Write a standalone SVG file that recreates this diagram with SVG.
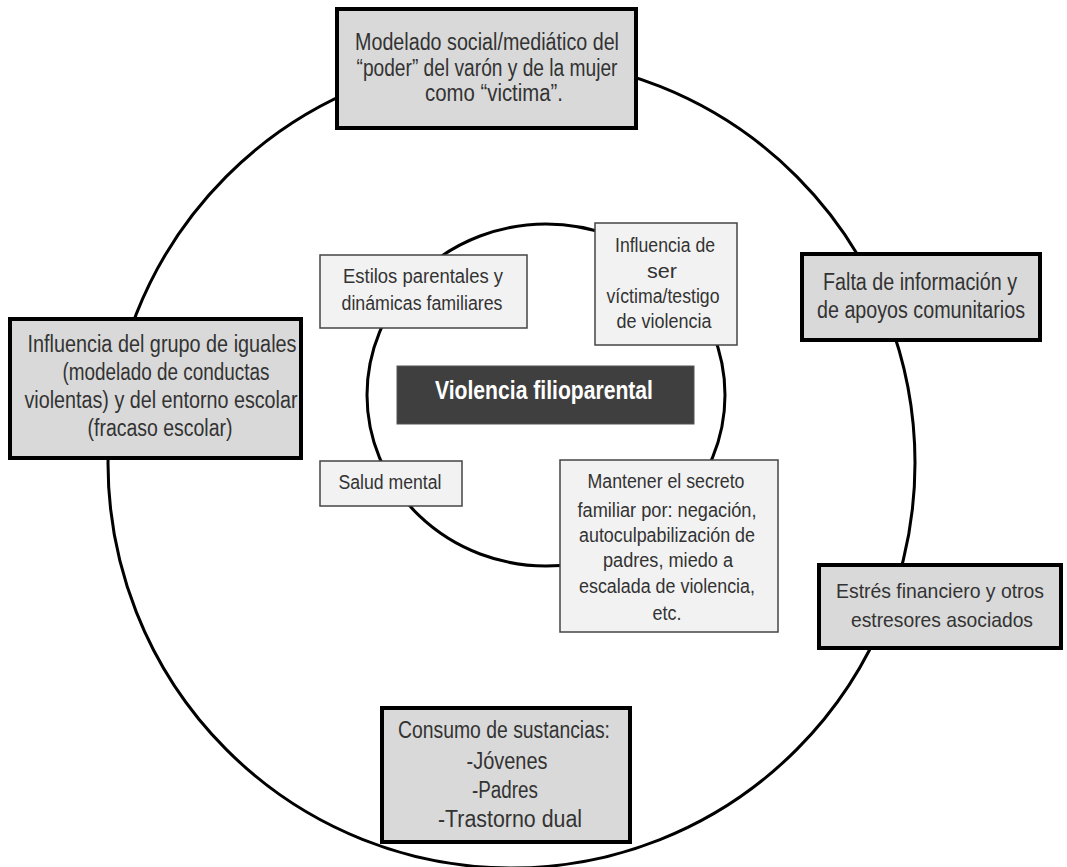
<svg xmlns="http://www.w3.org/2000/svg" width="1067" height="867" viewBox="0 0 1067 867">
<style>
.outer{fill:#d9d9d9;stroke:#000;stroke-width:4}
.inner{fill:#f2f2f2;stroke:#444;stroke-width:1.5}
.ring{fill:none;stroke:#000;stroke-width:3}
text{font-family:"Liberation Sans",Arial,sans-serif;fill:#333;text-anchor:middle}
.t1{font-size:23px}
.t1s{font-size:21px}
.t2{font-size:20px}
.c{font-size:25px;font-weight:bold;fill:#fff}
</style>
<rect width="1067" height="867" fill="#fff"/>
<g id="connectors">
<ellipse class="ring" cx="511.5" cy="463" rx="403.5" ry="405"/>
<ellipse class="ring" cx="546" cy="395" rx="179" ry="171"/>
</g>
<g id="top">
<rect class="outer" x="337" y="9" width="299" height="119"/>
<text class="t1" x="487" y="50" textLength="264" lengthAdjust="spacingAndGlyphs">Modelado social/mediático del</text>
<text class="t1" x="487" y="76" textLength="261" lengthAdjust="spacingAndGlyphs">“poder” del varón y de la mujer</text>
<text class="t1" x="494" y="101" textLength="138" lengthAdjust="spacingAndGlyphs">como “victima”.</text>
</g>
<g id="left">
<rect class="outer" x="10" y="319" width="291" height="139"/>
<text class="t1" x="162" y="352" textLength="269" lengthAdjust="spacingAndGlyphs">Influencia del grupo de iguales</text>
<text class="t1" x="166" y="380" textLength="207" lengthAdjust="spacingAndGlyphs">(modelado de conductas</text>
<text class="t1" x="161" y="408" textLength="273" lengthAdjust="spacingAndGlyphs">violentas) y del entorno escolar</text>
<text class="t1" x="160" y="436" textLength="145" lengthAdjust="spacingAndGlyphs">(fracaso escolar)</text>
</g>
<g id="falta">
<rect class="outer" x="802" y="254" width="238" height="86"/>
<text class="t1" x="920" y="290" textLength="194" lengthAdjust="spacingAndGlyphs">Falta de información y</text>
<text class="t1" x="921" y="318" textLength="208" lengthAdjust="spacingAndGlyphs">de apoyos comunitarios</text>
</g>
<g id="estres">
<rect class="outer" x="819" y="565" width="242" height="83"/>
<text class="t1s" x="940" y="598" textLength="208" lengthAdjust="spacingAndGlyphs">Estrés financiero y otros</text>
<text class="t1s" x="942" y="627" textLength="182" lengthAdjust="spacingAndGlyphs">estresores asociados</text>
</g>
<g id="consumo">
<rect class="outer" x="382" y="708" width="248" height="134"/>
<text class="t1" x="504" y="738" textLength="212" lengthAdjust="spacingAndGlyphs">Consumo de sustancias:</text>
<text class="t1" x="507" y="769" textLength="81" lengthAdjust="spacingAndGlyphs">-Jóvenes</text>
<text class="t1" x="505" y="798" textLength="66" lengthAdjust="spacingAndGlyphs">-Padres</text>
<text class="t1" x="510" y="827" textLength="144" lengthAdjust="spacingAndGlyphs">-Trastorno dual</text>
</g>
<g id="estilos">
<rect class="inner" x="320" y="255" width="207" height="73"/>
<text class="t2" x="423" y="283" textLength="160" lengthAdjust="spacingAndGlyphs">Estilos parentales y</text>
<text class="t2" x="422" y="310" textLength="161" lengthAdjust="spacingAndGlyphs">dinámicas familiares</text>
</g>
<g id="influencia">
<rect class="inner" x="595" y="223" width="142" height="122"/>
<text class="t2" x="665" y="252" textLength="100" lengthAdjust="spacingAndGlyphs">Influencia de</text>
<text class="t2" x="662" y="278" textLength="30" lengthAdjust="spacingAndGlyphs">ser</text>
<text class="t2" x="663" y="303" textLength="113" lengthAdjust="spacingAndGlyphs">víctima/testigo</text>
<text class="t2" x="664" y="328" textLength="95" lengthAdjust="spacingAndGlyphs">de violencia</text>
</g>
<g id="centro">
<rect x="397" y="366" width="297" height="58" fill="#3f3f3f" stroke="#555" stroke-width="1"/>
<text class="c" x="544" y="399" textLength="218" lengthAdjust="spacingAndGlyphs">Violencia filioparental</text>
</g>
<g id="salud">
<rect class="inner" x="320" y="461" width="142" height="45"/>
<text class="t2" x="390" y="489" textLength="103" lengthAdjust="spacingAndGlyphs">Salud mental</text>
</g>
<g id="mantener">
<rect class="inner" x="560" y="460" width="218" height="172"/>
<text class="t2" x="666" y="488" textLength="157" lengthAdjust="spacingAndGlyphs">Mantener el secreto</text>
<text class="t2" x="667" y="517" textLength="179" lengthAdjust="spacingAndGlyphs">familiar por: negación,</text>
<text class="t2" x="667" y="542" textLength="176" lengthAdjust="spacingAndGlyphs">autoculpabilización de</text>
<text class="t2" x="668" y="567" textLength="130" lengthAdjust="spacingAndGlyphs">padres, miedo a</text>
<text class="t2" x="667" y="593" textLength="176" lengthAdjust="spacingAndGlyphs">escalada de violencia,</text>
<text class="t2" x="667" y="620" textLength="29" lengthAdjust="spacingAndGlyphs">etc.</text>
</g>
</svg>
